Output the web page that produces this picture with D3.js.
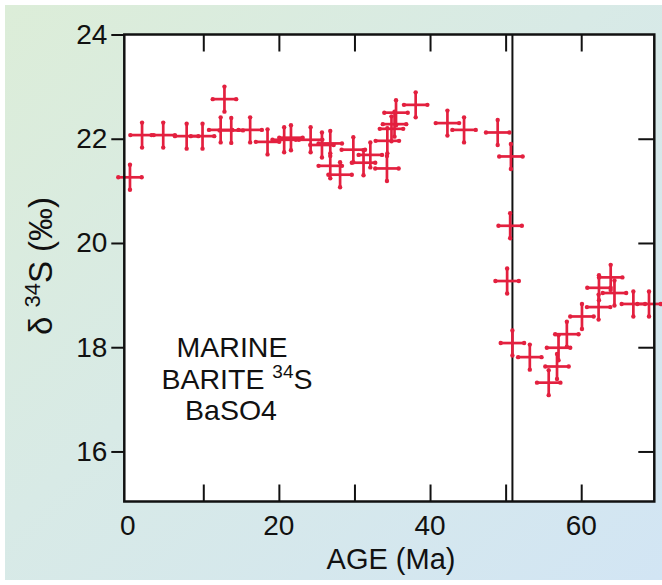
<!DOCTYPE html>
<html>
<head>
<meta charset="utf-8">
<script src="https://cdn.jsdelivr.net/npm/d3@7/dist/d3.min.js"></script>
<style>
  html, body { margin: 0; padding: 0; background: #ffffff; }
  svg { display: block; }
  text { font-family: "Liberation Sans", Arial, Helvetica, sans-serif; fill: #111; }
</style>
</head>
<body>
<svg id="chart" width="662" height="585"></svg>
<script>
// Marine barite sulfur isotope record (age in Ma, δ34S in ‰)
const age = [0.3, 1.9, 4.7, 7.8, 9.9, 12.8, 12.3, 13.7, 16.2, 18.5, 20.7, 21.6,
  24.2, 25.7, 26.8, 26.8, 28.1, 29.85, 31.2, 32.1, 34.3, 34.35, 34.9, 35.3, 35.5,
  38.1, 42.3, 44.5, 48.95, 50.7, 50.6, 50.2, 50.9, 53.2, 55.7, 56.8, 57.0, 58.1,
  60.1, 62.3, 62.35, 63.9, 64.4, 66.9, 68.97];
const d34S = [21.26, 22.07, 22.07, 22.05, 22.05, 22.76, 22.17, 22.16, 22.17, 21.94,
  21.98, 22.02, 21.98, 21.88, 21.91, 21.48, 21.31, 21.79, 21.54, 21.69, 21.43, 21.96,
  22.19, 22.28, 22.5, 22.65, 22.30, 22.17, 22.12, 21.66, 20.33, 19.27, 18.08, 17.81,
  17.32, 17.63, 17.99, 18.25, 18.59, 18.77, 19.14, 19.34, 19.04, 18.83, 18.83];
const ageErr = 1.55;   // ± Ma
const d34SErr = 0.24;  // ± ‰

const xLabelTicks = [0, 20, 40, 60];
const xInnerTicks = [10, 20, 30, 40, 50, 60];
const yLabelTicks = [16, 18, 20, 22, 24];
const yRightTicks = [16, 18, 20, 22];
const boundaryAge = 50.9;

const svg = d3.select("#chart");
const W = 662, H = 585;
const pLeft = 124.3, pRight = 654.3, pTop = 34.5, pBottom = 501.5;

// background wash
const defs = svg.append("defs");
const grad = defs.append("linearGradient").attr("id", "bg")
  .attr("x1", "0%").attr("y1", "0%").attr("x2", "100%").attr("y2", "100%");
grad.append("stop").attr("offset", "0%").attr("stop-color", "#dcedd8");
grad.append("stop").attr("offset", "45%").attr("stop-color", "#d8eae6");
grad.append("stop").attr("offset", "100%").attr("stop-color", "#d2e5f4");
svg.append("rect").attr("x", 5).attr("y", 5).attr("width", W - 5).attr("height", H - 10)
  .attr("fill", "url(#bg)");

const x = d3.scaleLinear().domain([-0.45, 69.67]).range([pLeft, pRight]);
const y = d3.scaleLinear().domain([15.04, 24]).range([pBottom, pTop]);

// plot area
svg.append("rect").attr("x", pLeft).attr("y", pTop)
  .attr("width", pRight - pLeft).attr("height", pBottom - pTop)
  .attr("fill", "#ffffff");

// left axis: outward ticks with labels
const yAxis = d3.axisLeft(y).tickValues(yLabelTicks).tickSize(13).tickPadding(4)
  .tickFormat(d3.format("d"));
const gy = svg.append("g").attr("transform", `translate(${pLeft},0)`).call(yAxis);
gy.select(".domain").remove();
gy.attr("font-family", null).attr("font-size", null);
gy.selectAll(".tick line").attr("stroke", "#111").attr("stroke-width", 2);
gy.selectAll(".tick text").attr("font-size", 28).attr("fill", "#111");

// right axis: inward ticks
const yAxisR = d3.axisLeft(y).tickValues(yRightTicks).tickSize(16).tickFormat("");
const gyr = svg.append("g").attr("transform", `translate(${pRight},0)`).call(yAxisR);
gyr.select(".domain").remove();
gyr.selectAll(".tick line").attr("stroke", "#111").attr("stroke-width", 2);

// bottom and top axes: inward ticks
const xAxisB = d3.axisTop(x).tickValues(xInnerTicks).tickSize(17).tickFormat("");
const gxb = svg.append("g").attr("transform", `translate(0,${pBottom})`).call(xAxisB);
gxb.select(".domain").remove();
gxb.selectAll(".tick line").attr("stroke", "#111").attr("stroke-width", 2);

const xAxisT = d3.axisBottom(x).tickValues(xInnerTicks).tickSize(17).tickFormat("");
const gxt = svg.append("g").attr("transform", `translate(0,${pTop})`).call(xAxisT);
gxt.select(".domain").remove();
gxt.selectAll(".tick line").attr("stroke", "#111").attr("stroke-width", 2);

// bottom tick labels
svg.append("g").selectAll("text").data(xLabelTicks).join("text")
  .attr("x", d => x(d)).attr("y", 535)
  .attr("text-anchor", "middle").attr("font-size", 28)
  .text(d => d);

// boundary line
svg.append("line")
  .attr("x1", x(boundaryAge)).attr("x2", x(boundaryAge))
  .attr("y1", pTop).attr("y2", pBottom)
  .attr("stroke", "#111").attr("stroke-width", 2);

// error-bar crosses
const red = "#e3203f";
const pts = age.map((a, i) => ({ a, v: d34S[i] }));
const marks = svg.append("g");
const cross = marks.selectAll("g").data(pts).join("g");
cross.append("line")
  .attr("x1", d => x(d.a - ageErr)).attr("x2", d => x(d.a + ageErr))
  .attr("y1", d => y(d.v)).attr("y2", d => y(d.v))
  .attr("stroke", red).attr("stroke-width", 2.7);
cross.append("line")
  .attr("x1", d => x(d.a)).attr("x2", d => x(d.a))
  .attr("y1", d => y(d.v - d34SErr)).attr("y2", d => y(d.v + d34SErr))
  .attr("stroke", red).attr("stroke-width", 2.7);
const ends = d => [
  [x(d.a - ageErr), y(d.v)], [x(d.a + ageErr), y(d.v)],
  [x(d.a), y(d.v - d34SErr)], [x(d.a), y(d.v + d34SErr)]
];
cross.selectAll("circle").data(ends).join("circle")
  .attr("cx", p => p[0]).attr("cy", p => p[1]).attr("r", 2.2).attr("fill", red);

// frame
svg.append("rect").attr("x", pLeft).attr("y", pTop)
  .attr("width", pRight - pLeft).attr("height", pBottom - pTop)
  .attr("fill", "none").attr("stroke", "#111").attr("stroke-width", 2.5);

// axis titles
svg.append("text").attr("x", 391).attr("y", 569).attr("text-anchor", "middle")
  .attr("font-size", 29).text("AGE (Ma)");

const yt = svg.append("text")
  .attr("transform", "translate(52,266) rotate(-90)")
  .attr("text-anchor", "middle").attr("font-size", 33);
yt.append("tspan").text("δ ");
yt.append("tspan").attr("font-size", 22).attr("dy", -12).text("34");
yt.append("tspan").attr("dy", 12).text("S (‰)");

// annotation block
const note = svg.append("g").attr("font-size", 28.5);
note.append("text").attr("x", 232).attr("y", 357).attr("text-anchor", "middle").text("MARINE");
const l2 = note.append("text").attr("x", 237).attr("y", 388.5).attr("text-anchor", "middle");
l2.append("tspan").text("BARITE ");
l2.append("tspan").attr("font-size", 19).attr("dy", -11).text("34");
l2.append("tspan").attr("dy", 11).text("S");
note.append("text").attr("x", 231).attr("y", 420).attr("text-anchor", "middle").text("BaSO4");
</script>
</body>
</html>
